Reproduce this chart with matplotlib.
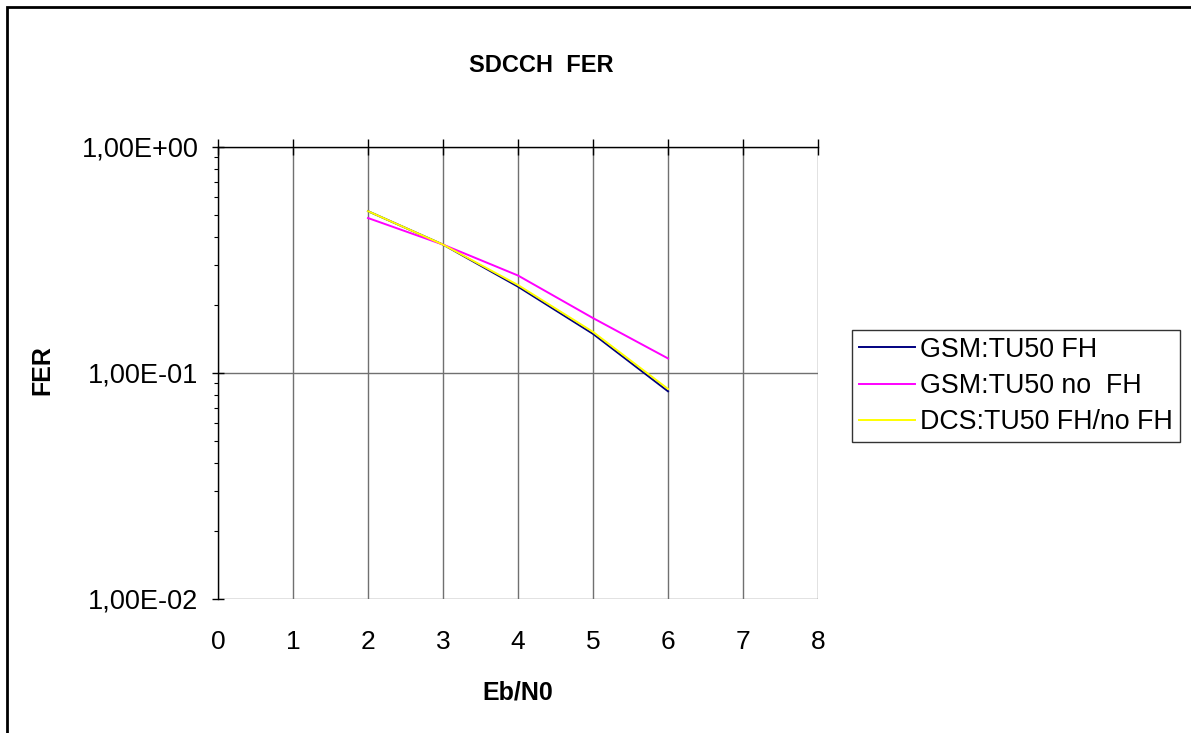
import matplotlib
matplotlib.use("Agg")
import matplotlib.pyplot as plt
from matplotlib.patches import Rectangle
from matplotlib.ticker import LogLocator, NullFormatter

plt.rcParams['font.family'] = ['Liberation Sans', 'DejaVu Sans']

x = [2, 3, 4, 5, 6]
gsm_fh = [0.52, 0.37, 0.241, 0.149, 0.083]
gsm_nofh = [0.485, 0.37, 0.27, 0.175, 0.116]
dcs_fh_nofh = [0.52, 0.37, 0.245, 0.152, 0.085]
labels = ["GSM:TU50 FH", "GSM:TU50 no  FH", "DCS:TU50 FH/no FH"]
colors = ["#000080", "#FF00FF", "#FFFF00"]
yticks = [1e-2, 1e-1, 1e0]
ytick_labels = ["1,00E-02", "1,00E-01", "1,00E+00"]
xticks = [0, 1, 2, 3, 4, 5, 6, 7, 8]

W, H = 1191, 733
fig = plt.figure(figsize=(W / 100, H / 100), dpi=100)
ax = fig.add_axes([218 / W, 1 - 599 / H, 600 / W, 452 / H])

for ys, lab, c in zip([gsm_fh, gsm_nofh, dcs_fh_nofh], labels, colors):
    ax.plot(x, ys, color=c, lw=1.4, label=lab)

ax.set_yscale('log')
ax.set_xlim(0, 8)
ax.set_ylim(1e-2, 1e0)
ax.set_xticks(xticks)
ax.set_yticks(yticks)
ax.set_yticklabels(ytick_labels)
ax.yaxis.set_minor_locator(LogLocator(base=10, subs=range(2, 10)))
ax.yaxis.set_minor_formatter(NullFormatter())

ax.grid(True, which='major', color='#707070', lw=1.0)
ax.set_axisbelow(True)
for s in ['right', 'bottom']:
    ax.spines[s].set_visible(False)
for s in ['left', 'top']:
    ax.spines[s].set_color('black')
    ax.spines[s].set_linewidth(1.0)

ax.tick_params(axis='x', bottom=False, top=True, labelbottom=True, labeltop=False,
               direction='inout', length=12, width=1, pad=16, labelsize=19)
ax.tick_params(axis='y', which='major', direction='inout', length=8, width=1,
               pad=10, labelsize=19.5)
ax.tick_params(axis='y', which='minor', direction='out', length=3, width=0.8)

ax.legend(loc='upper left', bbox_to_anchor=(852 / W, 1 - 330 / H),
          bbox_transform=fig.transFigure, frameon=True, fancybox=False,
          edgecolor='black', fontsize=19.3, handlelength=2.1, handletextpad=0.2,
          borderpad=0.25, labelspacing=0.38, borderaxespad=0)
leg = ax.get_legend()
leg.get_frame().set_linewidth(1.0)

fig.text(541 / W, 1 - 65 / H, "SDCCH  FER", ha='center', va='center',
         fontsize=17, fontweight='bold')
fig.text(518 / W, 1 - 693 / H, "Eb/N0", ha='center', va='center',
         fontsize=18, fontweight='bold')
fig.text(42 / W, 1 - 370 / H, "FER", ha='center', va='center', rotation=90,
         fontsize=18, fontweight='bold')

fig.add_artist(Rectangle((6.5 / W, -0.05), 1.1, 1 - 6.5 / H + 0.05,
                         transform=fig.transFigure, fill=False,
                         edgecolor='black', lw=2.0))

fig.savefig("out.png", dpi=100)
